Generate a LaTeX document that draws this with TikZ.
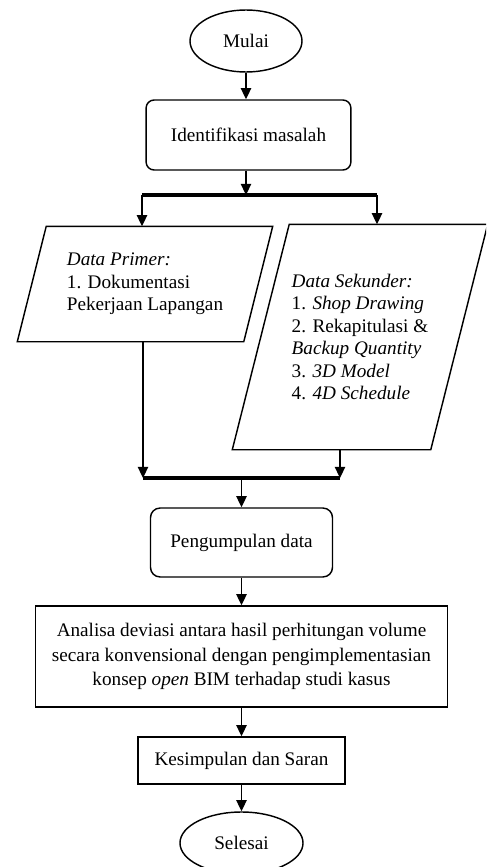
\documentclass[tikz,border=0pt]{standalone}
\usepackage{fontspec}
\setmainfont{Liberation Serif}
\usetikzlibrary{arrows.meta,shapes.geometric}
\tikzset{
	base/.style={draw, line width=0.9pt, font=\fontsize{12}{14}\selectfont, inner sep=2pt},
	terminal/.style={base, ellipse, minimum width=70pt, minimum height=38.75pt},
	process/.style={base, rectangle, rounded corners=5pt},
	plainbox/.style={base, rectangle},
	io/.style={rectangle, font=\fontsize{12}{14}\selectfont, align=left, minimum width=158.75pt},
	bar/.style={-, line width=2.2pt}
}

\begin{document}
\begin{tikzpicture}[x=0.625pt, y=-0.625pt, ->, >={Triangle[length=7pt,width=6.5pt]},
line width=0.9pt]
\clip (0,0) rectangle (486,867);
\node[terminal] (mulai) at (246,41) {Mulai};
\node[process, minimum width=128pt, minimum height=43.75pt] (ident) at (248.5,135) {Identifikasi masalah};
\node[io, minimum height=71.25pt] (primer) at (145,284) {\textit{Data Primer:}\\1. Dokumentasi\\Pekerjaan Lapangan};
\node[io, minimum height=140pt] (sekunder) at (360,337) {\textit{Data Sekunder:}\\1. \textit{Shop Drawing}\\2. Rekapitulasi \&\\\textit{Backup Quantity}\\3. \textit{3D Model}\\4. \textit{4D Schedule}};
\node[process, rounded corners=6pt, minimum width=113.75pt, minimum height=43.1pt] (kumpul) at (241.5,542.5) {Pengumpulan data};
\node[plainbox, minimum width=257.5pt, minimum height=63.1pt, align=center, font=\fontsize{12}{15.3}\selectfont] (analisa) at (241.5,656.5) {Analisa deviasi antara hasil perhitungan volume\\secara konvensional dengan pengimplementasian\\konsep \textit{open} BIM terhadap studi kasus};
\node[plainbox, minimum width=129.4pt, minimum height=29.4pt] (simpul) at (241.5,760.5) {Kesimpulan dan Saran};
\node[terminal, minimum width=76.9pt] (selesai) at (241.5,843) {Selesai};
% slanted data boxes
\draw[-] ([xshift=18.1pt]primer.north west) -- (primer.north east) -- ([xshift=-18.1pt]primer.south east) -- (primer.south west) -- cycle;
\draw[-] ([xshift=35.6pt]sekunder.north west) -- (sekunder.north east) -- ([xshift=-35.6pt]sekunder.south east) -- (sekunder.south west) -- cycle;
% split and merge bars
\coordinate (split l) at (142,195);
\coordinate (split r) at (377,195);
\coordinate (merge l) at (143,478);
\coordinate (merge r) at (340,478);
\draw (mulai.south) -- (mulai.south |- ident.north);
\draw (mulai.south |- ident.south) -- (mulai.south |- split l);
\draw[bar] (split l) -- (split r);
\draw (split l) -- (split l |- primer.north);
\draw (split r) -- (split r |- sekunder.north);
\draw (merge l |- primer.south) -- (merge l);
\draw (merge r |- sekunder.south) -- (merge r);
\draw[bar] (merge l) -- (merge r);
\draw (kumpul.north |- merge l) -- (kumpul.north);
\draw (kumpul) -- (analisa);
\draw (analisa) -- (simpul);
\draw (simpul) -- (selesai);
\end{tikzpicture}
\end{document}
